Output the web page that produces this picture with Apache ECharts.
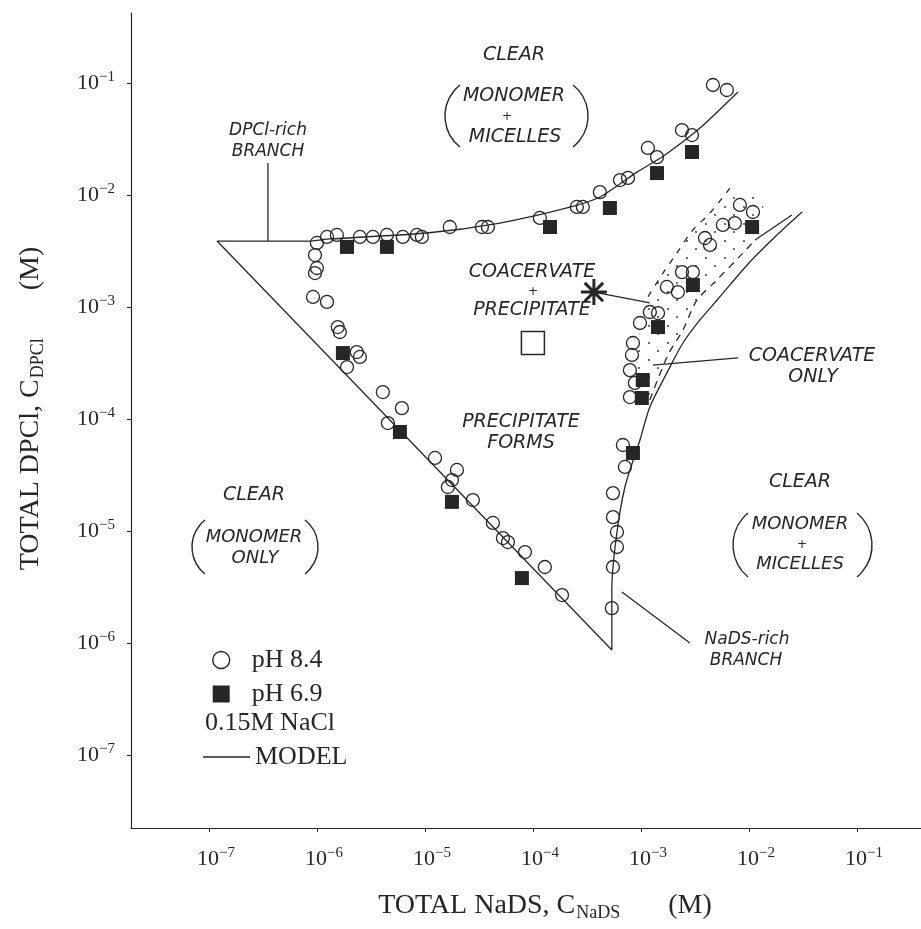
<!DOCTYPE html>
<html>
<head>
<meta charset="utf-8">
<script src="https://cdn.jsdelivr.net/npm/echarts@6/dist/echarts.min.js"></script>
<style>html,body{margin:0;padding:0;background:#fff}#chart{width:921px;height:929px}</style>
</head>
<body>
<div id="chart"></div>
<script>
// [C_NaDS, C_DPCl] in M
const ph84 = [
  [1.00e-6, 3.73e-3], [9.6e-7, 2.91e-3], [1.00e-6, 2.23e-3], [9.6e-7, 2.01e-3], [9.2e-7, 1.23e-3], [1.24e-6, 1.11e-3],
  [1.56e-6, 6.62e-4], [1.63e-6, 5.98e-4], [2.34e-6, 3.96e-4], [2.50e-6, 3.58e-4], [1.90e-6, 2.91e-4],
  [1.24e-6, 4.22e-3], [1.53e-6, 4.40e-3], [2.50e-6, 4.22e-3], [3.30e-6, 4.22e-3], [4.45e-6, 4.40e-3],
  [6.25e-6, 4.22e-3], [8.43e-6, 4.40e-3], [9.38e-6, 4.22e-3], [1.70e-5, 5.18e-3], [3.37e-5, 5.18e-3],
  [3.83e-5, 5.18e-3], [1.16e-4, 6.24e-3], [2.55e-4, 7.82e-3], [2.90e-4, 7.82e-3], [4.17e-4, 1.06e-2],
  [6.40e-4, 1.36e-2], [7.59e-4, 1.42e-2], [1.16e-3, 2.63e-2], [1.41e-3, 2.18e-2], [2.40e-3, 3.80e-2],
  [2.97e-3, 3.43e-2], [4.64e-3, 9.60e-2], [6.25e-3, 8.66e-2],
  [4.08e-6, 1.74e-4], [6.12e-6, 1.25e-4], [4.54e-6, 9.20e-5], [1.24e-5, 4.49e-5], [1.78e-5, 2.85e-5],
  [1.63e-5, 2.47e-5], [1.98e-5, 3.51e-5], [2.78e-5, 1.89e-5], [4.26e-5, 1.18e-5], [5.28e-5, 8.65e-6],
  [5.87e-5, 7.97e-6], [8.44e-5, 6.49e-6], [1.29e-4, 4.77e-6], [1.86e-4, 2.68e-6],
  [8.26e-3, 8.15e-3], [1.09e-2, 7.05e-3], [5.74e-3, 5.40e-3], [7.41e-3, 5.62e-3], [3.92e-3, 4.13e-3],
  [4.36e-3, 3.58e-3], [2.40e-3, 2.05e-3], [3.03e-3, 2.05e-3], [1.74e-3, 1.51e-3], [2.20e-3, 1.36e-3],
  [1.21e-3, 9.02e-4], [1.44e-3, 8.83e-4], [9.80e-4, 7.20e-4], [8.44e-4, 4.77e-4], [8.26e-4, 3.73e-4],
  [7.91e-4, 2.73e-4], [8.79e-4, 2.10e-4], [7.91e-4, 1.57e-4], [6.81e-4, 5.86e-5], [7.11e-4, 3.73e-5],
  [5.51e-4, 2.18e-5], [5.51e-4, 1.33e-5], [6.00e-4, 9.80e-6], [6.00e-4, 7.20e-6], [5.51e-4, 4.77e-6],
  [5.38e-4, 2.05e-6]
]
const ph69 = [
  [1.90e-6, 3.44e-3], [4.45e-6, 3.44e-3], [1.44e-4, 5.18e-3], [5.16e-4, 7.66e-3], [1.41e-3, 1.57e-2],
  [2.97e-3, 2.42e-2], [1.74e-6, 3.88e-4], [5.87e-6, 7.66e-5], [1.78e-5, 1.82e-5], [7.91e-5, 3.80e-6],
  [1.07e-2, 5.18e-3], [3.03e-3, 1.57e-3], [1.44e-3, 6.62e-4], [1.04e-3, 2.23e-4], [1.02e-3, 1.54e-4],
  [8.44e-4, 4.97e-5]
]
const openSquare = [[1.0e-4, 4.77e-4]]
const starMark   = [[3.67e-4, 1.36e-3]]

// model curves
const modelDpcl = [
  [1.19e-7, 3.88e-3], [8.26e-7, 3.88e-3], [1.32e-6, 4.05e-3], [1.04e-5, 4.58e-3], [4.95e-5, 5.62e-3],
  [2.07e-4, 7.66e-3], [4.17e-4, 9.60e-3], [9.19e-4, 1.60e-2], [1.67e-3, 2.28e-2], [3.52e-3, 3.96e-2],
  [7.91e-3, 8.31e-2]
]
const modelPrecip = [[1.19e-7, 3.88e-3], [5.38e-4, 8.65e-7]]
const modelNads = [
  [5.38e-4, 8.65e-7], [5.38e-4, 2.97e-6], [5.87e-4, 8.31e-6], [7.11e-4, 2.47e-5], [9.80e-4, 6.49e-5],
  [1.21e-3, 1.28e-4], [1.74e-3, 2.58e-4], [2.45e-3, 4.77e-4], [3.52e-3, 7.66e-4], [5.06e-3, 1.15e-3],
  [1.02e-2, 2.52e-3], [1.74e-2, 4.22e-3], [3.10e-2, 7.05e-3]
]
// coacervate boundaries
const coacMid = [
  [1.21e-3, 1.48e-4], [1.78e-3, 3.73e-4], [2.45e-3, 6.23e-4], [3.30e-3, 1.15e-3], [4.84e-3, 1.67e-3],
  [8.79e-3, 3.03e-3], [1.14e-2, 3.96e-3]
]
const coacMidEnd = [[1.14e-2, 3.96e-3], [2.50e-2, 6.62e-3]]
const coacLeft = [
  [6.67e-3, 1.15e-2], [4.36e-3, 6.90e-3], [3.03e-3, 4.87e-3], [2.15e-3, 3.03e-3], [1.60e-3, 2.01e-3],
  [1.16e-3, 1.23e-3]
]
// stippled coacervate-only zone outline
const coacZone = [
  [6.67e-3, 1.15e-2], [4.36e-3, 6.90e-3], [3.03e-3, 4.87e-3], [2.15e-3, 3.03e-3], [1.60e-3, 2.01e-3],
  [1.16e-3, 1.23e-3], [9.80e-4, 6.23e-4], [8.99e-4, 2.47e-4], [9.80e-4, 1.15e-4], [1.21e-3, 1.48e-4],
  [1.78e-3, 3.73e-4], [2.45e-3, 6.23e-4], [3.30e-3, 1.15e-3], [4.84e-3, 1.67e-3], [8.79e-3, 3.03e-3],
  [1.14e-2, 3.96e-3], [1.40e-2, 9.0e-3]
]
// pointer lines
const dpclPointer = [[3.52e-7, 1.93e-2], [3.52e-7, 3.88e-3]]
const nadsPointer = [[6.67e-4, 2.85e-6], [2.84e-3, 1.0e-6]]
const coacPointer = [[1.29e-3, 3.03e-4], [7.91e-3, 3.51e-4]]
const starPointer = [[3.67e-4, 1.36e-3], [1.21e-3, 1.09e-3]]

const decades = [1e-7, 1e-6, 1e-5, 1e-4, 1e-3, 1e-2, 1e-1]

const INK = '#262626'
const SERIF = 'Liberation Serif'
const SANS = 'DejaVu Sans'

const regionText = [
  ['CLEAR', 514, 55, 19], ['MONOMER', 514, 96, 19], ['+', 507, 117, 12], ['MICELLES', 515, 137, 19],
  ['DPCl-rich', 268, 131, 17], ['BRANCH', 268, 152, 17],
  ['COACERVATE', 532, 272, 19], ['+', 533, 292, 12], ['PRECIPITATE', 532, 310, 19],
  ['PRECIPITATE', 521, 422, 19], ['FORMS', 521, 443, 19],
  ['COACERVATE', 812, 356, 19], ['ONLY', 813, 377, 19],
  ['CLEAR', 800, 482, 19], ['MONOMER', 800, 524, 18], ['+', 802, 545, 12], ['MICELLES', 800, 564, 18],
  ['CLEAR', 254, 495, 19], ['MONOMER', 254, 537, 18], ['ONLY', 255, 558, 18],
  ['NaDS-rich', 747, 640, 17], ['BRANCH', 746, 661, 17],
]
// bulge x, centre y, height, depth, side
const parens = [
  [445, 116, 62, 15, 'l'], [588, 116, 62, 15, 'r'],
  [733, 545, 64, 15, 'l'], [872, 545, 64, 15, 'r'],
  [192, 547, 54, 13, 'l'], [318, 547, 54, 13, 'r'],
]

function parenArc([bx, cy, h, w, side]) {
  const r = ((h / 2) ** 2 + w * w) / (2 * w)
  const a = Math.asin((h / 2) / r)
  const cx = side === 'l' ? bx + r : bx - r
  const s = side === 'l' ? Math.PI - a : -a
  return {
    type: 'arc', silent: true,
    shape: { cx, cy, r, startAngle: s, endAngle: s + 2 * a },
    style: { stroke: INK, fill: null, lineWidth: 1.4 },
  }
}

const graphics = regionText.map(([t, x, y, s]) => ({
  type: 'text', x, y, silent: true,
  style: { text: t, fontSize: s, fontFamily: SANS, fontStyle: 'italic', fill: INK, align: 'center', verticalAlign: 'middle' },
})).concat(parens.map(parenArc))

// sparse dot tile for the stippled zone
const dots = document.createElement('canvas')
dots.width = 19; dots.height = 17
{
  const c = dots.getContext('2d')
  c.fillStyle = INK
  c.beginPath(); c.arc(3, 3, 0.9, 0, Math.PI * 2); c.fill()
  c.beginPath(); c.arc(12, 11, 0.9, 0, Math.PI * 2); c.fill()
}

const tickRich = {
  b: { fontFamily: SERIF, fontSize: 22, lineHeight: 26, color: INK },
  s: { fontFamily: SERIF, fontSize: 15, lineHeight: 15, verticalAlign: 'top', color: INK },
}
const titleRich = {
  a: { fontFamily: SERIF, fontSize: 28, lineHeight: 30, verticalAlign: 'top', color: INK },
  sub: { fontFamily: SERIF, fontSize: 18, lineHeight: 18, verticalAlign: 'bottom', padding: [20, 0, 0, 1], color: INK },
  sp: { width: 48 },
}
const powLabel = v => {
  const e = Math.round(Math.log10(v))
  return '{b|10}{s|' + (e < 0 ? '−' : '') + Math.abs(e) + '}'
}

function logAxis(extra) {
  return Object.assign({
    type: 'log', logBase: 10,
    axisLine: { show: true, lineStyle: { color: INK, width: 1.2 } },
    axisTick: { show: true, length: 4, customValues: decades, lineStyle: { color: INK, width: 1 } },
    minorTick: { show: false },
    splitLine: { show: false },
    minorSplitLine: { show: false },
  }, extra)
}

const line = (data, opt) => Object.assign({
  type: 'line', data, symbol: 'none', z: 2, silent: true,
  lineStyle: { color: INK, width: 1.3 }, itemStyle: { color: INK },
}, opt)

const chart = echarts.init(document.getElementById('chart'), null, { renderer: 'canvas' })
chart.setOption({
  backgroundColor: '#fff',
  animation: false,
  grid: { left: 131, right: 0, top: 13, bottom: 101 },
  xAxis: logAxis({
    min: 1.9e-8, max: 0.392,
    axisLabel: { customValues: decades, formatter: powLabel, rich: tickRich, margin: 18, padding: [0, 0, 0, 14] },
    name: '{a|TOTAL NaDS, C}{sub|NaDS}{sp| }{a|(M)}',
    nameLocation: 'middle', nameGap: 64,
    nameTextStyle: { rich: titleRich, padding: [0, 0, 0, 38] },
  }),
  yAxis: logAxis({
    min: 2.23e-8, max: 0.4217,
    axisLabel: { customValues: decades, formatter: powLabel, rich: tickRich, margin: 16 },
    name: '{a|TOTAL DPCl, C}{sub|DPCl}{sp| }{a|(M)}',
    nameLocation: 'middle', nameGap: 84, nameRotate: 90,
    nameTextStyle: { rich: titleRich, padding: [0, 0, 0, 24] },
  }),
  legend: [
    {
      orient: 'vertical', left: 207, top: 642, itemWidth: 17, itemHeight: 17, itemGap: 8,
      selectedMode: false,
      textStyle: { fontFamily: SERIF, fontSize: 26, color: INK, padding: [0, 0, 0, 17] },
      data: [
        { name: 'pH 8.4', icon: 'circle', itemStyle: { color: 'rgba(0,0,0,0)', borderColor: INK, borderWidth: 1.4 } },
        { name: 'pH 6.9', icon: 'rect', itemStyle: { color: INK } },
      ],
    },
    {
      left: 195, top: 705, itemWidth: 0, itemHeight: 17, selectedMode: false,
      textStyle: { fontFamily: SERIF, fontSize: 26, color: INK },
      data: [{ name: '0.15M NaCl', icon: 'none' }],
    },
    {
      left: 198, top: 739, itemWidth: 47, itemHeight: 1.4, selectedMode: false,
      textStyle: { fontFamily: SERIF, fontSize: 26, color: INK },
      data: [{ name: 'MODEL', icon: 'rect', itemStyle: { color: INK } }],
    },
  ],
  graphic: graphics,
  series: [
    {
      type: 'custom', data: coacZone, z: 1, silent: true,
      renderItem: (params, api) => {
        if (params.dataIndex !== 0) return
        return {
          type: 'polygon',
          shape: { points: coacZone.map(p => api.coord(p)) },
          style: { fill: { image: dots, repeat: 'repeat' }, stroke: null },
        }
      },
    },
    line(modelDpcl, { name: 'MODEL', smooth: 0.25 }),
    line(modelPrecip, { name: 'MODEL' }),
    line(modelNads, { name: 'MODEL', smooth: 0.3 }),
    line(coacMid, { smooth: 0.3, lineStyle: { color: INK, width: 1.3, type: [7, 6] } }),
    line(coacMidEnd, {}),
    line(coacLeft, { smooth: 0.3, lineStyle: { color: INK, width: 1.3, type: [6, 7] } }),
    line(dpclPointer, {}),
    line(nadsPointer, {}),
    line(coacPointer, {}),
    line(starPointer, {}),
    {
      name: 'pH 6.9', type: 'scatter', data: ph69, symbol: 'rect', symbolSize: 14, z: 3, silent: true,
      itemStyle: { color: INK, opacity: 1 },
    },
    {
      name: 'pH 8.4', type: 'scatter', data: ph84, symbol: 'circle', symbolSize: 13, z: 4, silent: true,
      itemStyle: { color: 'rgba(0,0,0,0)', borderColor: INK, borderWidth: 1.3, opacity: 1 },
    },
    {
      type: 'scatter', data: openSquare, symbol: 'rect', symbolSize: 23, z: 4, silent: true,
      itemStyle: { color: '#fff', borderColor: INK, borderWidth: 1.5, opacity: 1 },
    },
    {
      type: 'scatter', data: starMark, z: 4, silent: true, symbolSize: 26,
      symbol: 'path://M0,-10L0,10M-7.07,-7.07L7.07,7.07M-10,0L10,0M-7.07,7.07L7.07,-7.07',
      itemStyle: { color: INK, borderColor: INK, borderWidth: 3, opacity: 1 },
    },
    { name: '0.15M NaCl', type: 'scatter', data: [] },
  ],
})
</script>
</body>
</html>
